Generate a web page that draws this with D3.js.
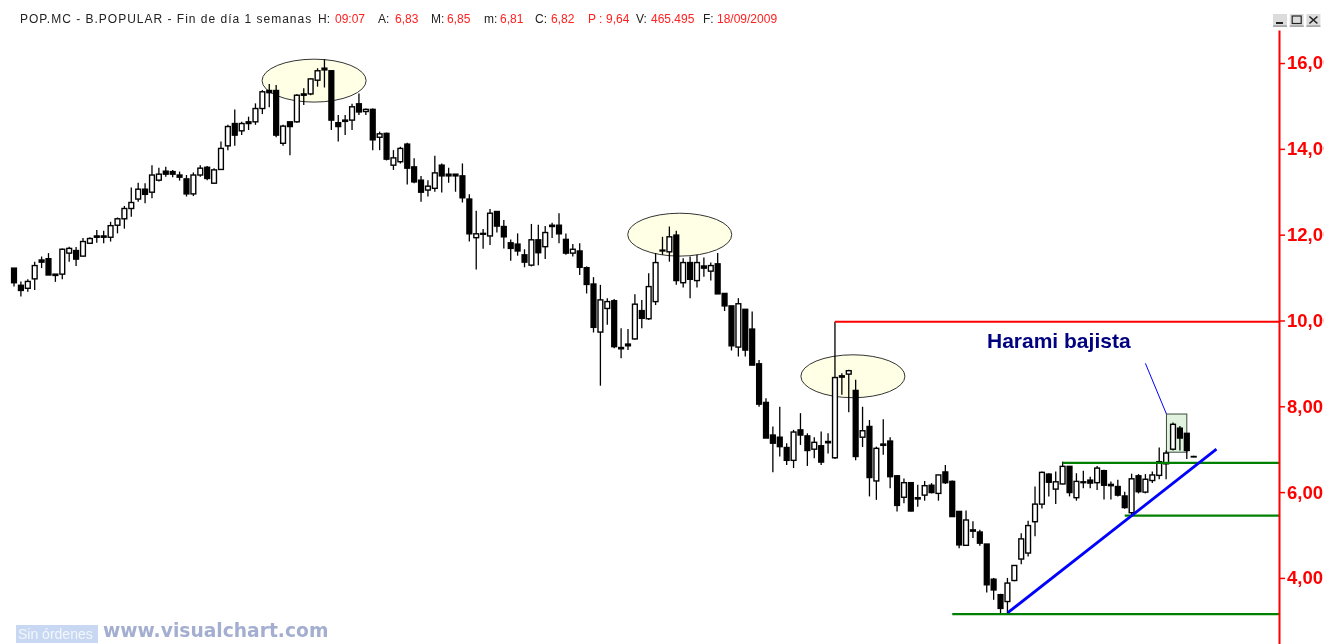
<!DOCTYPE html>
<html>
<head>
<meta charset="utf-8">
<script src="https://cdn.jsdelivr.net/npm/d3@7"></script>
<style>
  html, body { margin: 0; padding: 0; background: #fff; overflow: hidden; }
  svg { display: block; }
</style>
</head>
<body>
<div id="chart"></div>
<script>
// weekly candles (oldest first)
const opens = [
  11.22,10.82,10.75,10.97,11.41,11.44,11.08,11.08,11.57,11.63,
  11.50,11.80,11.97,11.97,11.94,12.22,12.37,12.61,12.83,13.06,
  12.99,13.27,13.48,13.47,13.39,13.30,12.95,13.39,13.57,13.20,
  13.52,14.07,14.59,14.42,14.63,14.63,14.94,15.36,15.36,14.13,
  14.63,14.63,15.28,15.28,15.60,15.88,15.82,14.61,14.67,14.67,
  15.05,14.87,14.92,14.27,14.36,13.62,13.70,14.11,13.58,13.27,
  13.04,13.08,13.62,13.41,13.41,13.37,12.83,11.93,12.03,11.97,
  12.54,12.19,11.81,11.78,11.53,11.29,11.88,11.72,12.22,12.22,
  11.89,11.57,11.62,11.23,10.85,9.73,10.28,10.46,9.37,9.45,
  9.57,10.23,10.04,10.44,11.64,11.60,11.99,10.88,11.35,10.93,
  11.27,11.15,11.32,10.63,10.34,9.38,10.26,9.80,8.99,8.09,
  7.33,7.28,7.04,6.74,7.45,7.31,7.00,7.08,7.18,6.80,
  8.71,8.75,8.37,7.28,7.53,6.26,7.12,7.19,6.38,5.88,
  6.22,5.87,5.93,6.16,5.97,6.47,6.25,5.55,4.76,5.12,
  5.07,4.79,3.97,3.61,3.45,3.94,4.44,4.58,5.31,5.72,
  6.42,6.07,6.19,6.60,5.87,6.24,6.28,6.22,6.50,6.18,
  6.13,5.91,5.52,6.38,6.00,6.27,6.39,6.66,7.00,7.49,
  7.37,6.83
];
const highs = [
  11.22,10.91,10.96,11.37,11.49,11.57,11.08,11.68,11.72,11.71,
  11.92,11.94,12.11,12.09,12.30,12.40,12.67,13.10,13.21,13.20,
  13.62,13.56,13.58,13.51,13.47,13.39,13.45,13.62,13.60,13.55,
  14.17,14.56,14.92,14.63,14.75,15.06,15.37,15.51,15.49,14.56,
  14.63,15.27,15.41,15.64,15.88,16.09,15.84,14.79,14.79,15.05,
  15.29,14.94,14.94,14.40,14.38,13.97,14.05,14.14,13.78,13.37,
  13.27,13.84,13.66,13.56,13.41,13.66,12.94,12.56,12.13,12.60,
  12.54,12.34,11.89,12.03,11.66,12.25,12.23,12.20,12.28,12.50,
  12.03,11.78,11.80,11.26,11.01,10.83,10.52,10.50,9.82,9.80,
  10.61,10.48,11.10,11.57,11.95,12.19,12.09,11.45,11.49,11.53,
  11.47,11.35,11.57,10.63,10.34,10.52,10.26,10.21,9.08,8.19,
  7.53,7.99,7.14,7.45,7.84,7.37,7.28,7.41,7.37,9.97,
  8.77,8.85,8.62,7.99,7.68,7.06,7.70,7.28,6.40,6.32,
  6.22,6.17,6.26,6.21,6.40,6.63,6.27,5.55,5.57,5.32,
  5.12,4.79,4.00,3.63,4.00,4.29,5.04,5.33,6.13,6.48,
  6.44,6.48,6.71,6.60,6.44,6.50,6.36,6.61,6.52,6.25,
  6.29,6.01,6.43,6.42,6.42,6.48,7.04,6.97,7.62,7.54,
  7.37,6.85
];
const lows = [
  10.79,10.56,10.67,10.71,11.22,11.06,10.90,10.96,11.37,11.27,
  11.49,11.78,11.81,11.80,11.84,12.03,12.14,12.42,12.77,12.73,
  12.85,13.24,13.35,13.34,13.26,12.89,12.90,13.35,13.27,13.18,
  13.51,13.97,14.07,14.32,14.44,14.56,14.81,14.97,14.27,14.07,
  13.85,14.61,15.02,15.25,15.45,15.43,14.44,14.17,14.32,14.44,
  14.79,14.79,13.97,13.97,13.73,13.51,13.66,13.17,13.20,12.77,
  12.89,13.00,12.98,13.21,13.00,12.75,11.84,11.19,11.67,11.76,
  12.05,11.68,11.39,11.51,11.24,11.26,11.29,11.43,11.92,11.80,
  11.53,11.49,11.06,10.63,9.72,8.48,9.90,9.35,9.12,9.31,
  9.55,9.82,10.01,10.36,11.53,11.37,10.83,10.77,10.52,10.77,
  11.02,10.93,10.62,10.22,9.30,9.16,9.16,8.96,7.99,7.26,
  6.46,6.83,6.63,6.56,7.10,6.61,6.79,6.63,6.90,6.77,
  8.27,7.86,6.74,7.05,5.90,5.82,6.87,6.09,5.55,5.74,
  5.55,5.66,5.80,5.97,5.80,6.19,5.42,4.69,4.75,4.93,
  4.75,3.66,3.49,3.18,3.18,3.92,4.32,4.50,4.97,5.62,
  5.90,5.72,6.18,5.90,5.80,6.09,6.09,6.05,5.83,5.83,
  5.90,5.61,5.47,5.97,5.97,6.21,6.30,6.30,6.97,6.97,
  6.77,6.81
];
const closes = [
  10.88,10.70,10.91,11.28,11.36,11.06,11.05,11.66,11.68,11.43,
  11.84,11.91,11.94,11.94,12.21,12.37,12.61,12.75,13.06,12.94,
  13.39,13.41,13.41,13.41,13.34,12.95,13.39,13.55,13.31,13.51,
  14.01,14.52,14.32,14.59,14.59,14.94,15.33,15.31,14.32,14.53,
  14.52,15.25,15.25,15.63,15.82,15.84,14.67,14.52,14.64,14.98,
  14.86,14.92,14.21,14.35,13.76,13.79,14.01,13.55,13.23,12.99,
  13.13,13.44,13.37,13.37,13.37,12.86,12.02,12.02,12.01,12.50,
  12.20,11.95,11.68,11.62,11.36,11.88,11.58,12.05,12.19,12.02,
  11.57,11.66,11.24,10.84,9.84,10.48,10.44,9.39,9.34,9.41,
  10.38,10.05,10.79,11.35,11.62,11.95,10.93,11.35,10.96,11.35,
  11.22,11.28,10.62,10.34,9.41,10.39,9.31,8.96,8.05,7.26,
  7.14,7.06,6.74,7.40,7.33,6.97,7.16,6.70,7.15,8.67,
  8.68,8.83,6.83,7.43,6.34,7.02,7.09,6.36,5.69,6.22,
  5.56,5.84,6.15,5.99,6.40,6.22,5.43,4.77,5.35,5.09,
  4.81,3.84,3.72,3.29,3.88,4.29,4.91,5.22,5.72,6.46,
  6.23,6.24,6.60,5.99,6.25,6.22,6.21,6.56,6.16,6.15,
  5.93,5.64,6.31,6.01,6.30,6.40,6.71,6.91,7.58,7.26,
  6.97,6.82
];
const priceTicks = [16, 14, 12, 10, 8, 6, 4];

// annotations, in candle number / price terms
const ellipseCentres = [43.5, 96.5, 121.6];
const ellipsePrices = [15.59, 12.00, 8.70];
const levels = [9.97, 6.68, 5.45, 3.155];
const levelStarts = [119, 152, 161, 136];
const levelColors = ["#ff0000", "#008000", "#008000", "#008000"];

const header = [
  ["POP.MC - B.POPULAR - Fin de día 1 semanas", 20, "#222", 1],
  ["H:", 318, "#222", 0], ["09:07", 335, "#ff2020", 0],
  ["A:", 378, "#222", 0], ["6,83", 395, "#ff2020", 0],
  ["M:", 431, "#222", 0], ["6,85", 447, "#ff2020", 0],
  ["m:", 484, "#222", 0], ["6,81", 500, "#ff2020", 0],
  ["C:", 535, "#222", 0], ["6,82", 551, "#ff2020", 0],
  ["P :", 588, "#ff2020", 0], ["9,64", 606, "#ff2020", 0],
  ["V:", 636, "#222", 0], ["465.495", 651, "#ff2020", 0],
  ["F:", 703, "#222", 0], ["18/09/2009", 717, "#ff2020", 0]
];

const width = 1324, height = 644;
const candles = opens.map((o, i) => ({ i, o, h: highs[i], l: lows[i], c: closes[i] }));

const x = d3.scaleLinear().domain([0, candles.length - 1]).range([14, 1193.7]);
const y = d3.scaleLinear().domain([16.77, 2.46]).range([30, 644]);
const axisX = 1279;

const svg = d3.select("#chart").append("svg")
    .attr("width", width)
    .attr("height", height)
    .attr("viewBox", [0, 0, width, height])
    .attr("font-family", "'Liberation Sans', Arial, sans-serif")
    .style("filter", "blur(0.35px)");

// ellipses and the harami box sit behind the candles
svg.append("g")
    .attr("fill", "#ffffe6")
    .attr("stroke", "#333")
  .selectAll("ellipse")
  .data(ellipseCentres)
  .join("ellipse")
    .attr("cx", d => x(d))
    .attr("cy", (d, i) => y(ellipsePrices[i]))
    .attr("rx", x(7.54) - x(0))
    .attr("ry", y(0) - y(0.5));

svg.append("rect")
    .attr("x", x(167.05))
    .attr("y", y(7.82))
    .attr("width", x(170) - x(167.05))
    .attr("height", y(6.93) - y(7.82))
    .attr("fill", "#dff3df")
    .attr("stroke", "#3a4a3a");

// candles
svg.append("g")
    .attr("stroke", "#000")
    .attr("stroke-width", 1.3)
  .selectAll("line")
  .data(candles)
  .join("line")
    .attr("x1", d => x(d.i))
    .attr("x2", d => x(d.i))
    .attr("y1", d => y(d.h))
    .attr("y2", d => y(d.l));

svg.append("g")
    .attr("stroke", "#000")
    .attr("stroke-width", 1.4)
  .selectAll("rect")
  .data(candles)
  .join("rect")
    .attr("x", d => x(d.i) - 2.4)
    .attr("width", 4.8)
    .attr("y", d => y(Math.max(d.o, d.c)))
    .attr("height", d => Math.abs(y(d.o) - y(d.c)))
    .attr("fill", d => d.c > d.o ? "#fff" : "#000");

// horizontal levels
svg.append("g")
    .attr("stroke-width", 2.2)
  .selectAll("line")
  .data(levels)
  .join("line")
    .attr("x1", (d, i) => x(levelStarts[i]))
    .attr("x2", axisX)
    .attr("y1", d => y(d))
    .attr("y2", d => y(d))
    .attr("stroke", (d, i) => levelColors[i]);

// trend line and leader
svg.append("line")
    .attr("x1", x(144.06)).attr("y1", y(3.19))
    .attr("x2", x(174.3)).attr("y2", y(7.0))
    .attr("stroke", "#0000ff")
    .attr("stroke-width", 2.8);

svg.append("line")
    .attr("x1", x(164)).attr("y1", y(9.0))
    .attr("x2", x(167.05)).attr("y2", y(7.82))
    .attr("stroke", "#0000ff");

svg.append("text")
    .attr("x", 987)
    .attr("y", 348)
    .attr("font-size", 21)
    .attr("font-weight", "bold")
    .attr("fill", "#000080")
    .text("Harami bajista");

// price axis, runs off the right edge like the original
const axis = svg.append("g")
    .attr("transform", `translate(${axisX},0)`)
    .call(d3.axisRight(y)
      .tickValues(priceTicks)
      .tickSize(6)
      .tickSizeOuter(0)
      .tickPadding(2)
      .tickFormat(d => d3.format(".2f")(d).replace(".", ",")));
axis.select(".domain").attr("stroke", "#ff0000").attr("stroke-width", 2);
axis.selectAll(".tick line").attr("stroke", "#ff0000").attr("stroke-width", 1.5);
axis.selectAll(".tick text")
    .attr("fill", "#ff0000")
    .attr("font-family", "'Liberation Sans', Arial, sans-serif")
    .attr("font-size", 18.5)
    .attr("font-weight", "bold");

// header line
svg.append("g")
    .attr("font-size", 12)
  .selectAll("text")
  .data(header)
  .join("text")
    .attr("x", d => d[1])
    .attr("y", 23)
    .attr("fill", d => d[2])
    .attr("letter-spacing", d => d[3])
    .text(d => d[0]);

// window buttons
const buttons = svg.append("g")
  .selectAll("g")
  .data(["min", "max", "close"])
  .join("g")
    .attr("transform", (d, i) => `translate(${1273 + i * 16.7},14)`);
buttons.append("rect")
    .attr("width", 14)
    .attr("height", 12.5)
    .attr("fill", "#dcdcdc");
buttons.append("rect")
    .attr("y", 11.5)
    .attr("width", 14)
    .attr("height", 1.2)
    .attr("fill", "#8a8a8a");
buttons.filter(d => d === "min").append("rect")
    .attr("x", 3).attr("y", 8).attr("width", 7).attr("height", 2).attr("fill", "#222");
buttons.filter(d => d === "max").append("rect")
    .attr("x", 2.5).attr("y", 2).attr("width", 9).attr("height", 7.5)
    .attr("fill", "none").attr("stroke", "#222").attr("stroke-width", 1.2);
buttons.filter(d => d === "close").append("path")
    .attr("d", "M3 2.5L11 9.5M11 2.5L3 9.5")
    .attr("stroke", "#222").attr("stroke-width", 1.6);

// footer
svg.append("rect")
    .attr("x", 16).attr("y", 625).attr("width", 82).attr("height", 18)
    .attr("fill", "#c9d8f2");
svg.append("text")
    .attr("x", 18).attr("y", 638.5)
    .attr("font-size", 14)
    .attr("fill", "#f2f6fd")
    .text("Sin órdenes");
svg.append("text")
    .attr("x", 103).attr("y", 637)
    .attr("font-family", "'DejaVu Sans', Verdana, sans-serif")
    .attr("font-size", 18.7)
    .attr("font-weight", "bold")
    .attr("fill", "#a3aed0")
    .text("www.visualchart.com");
</script>
</body>
</html>
